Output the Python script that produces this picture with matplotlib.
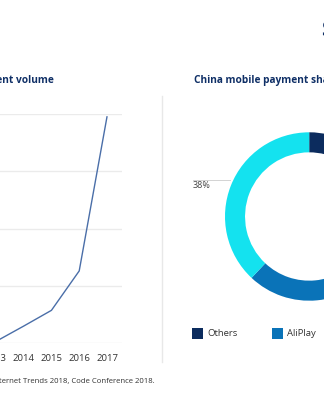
import matplotlib
import matplotlib.pyplot as plt
from matplotlib.lines import Line2D
from matplotlib.patches import Rectangle

matplotlib.use("Agg")

plt.rcParams["font.family"] = ["Open Sans", "DejaVu Sans"]

# data
years = [2013, 2014, 2015, 2016, 2017]
volume = [0.13, 1.2, 2.3, 5.05, 15.8]
share_labels = ["Others", "AliPlay", "WeChat Pay"]
share_values = [8, 54, 38]
share_colors = ["#0c2c5e", "#0a73b8", "#14e2ef"]

NAVY = "#0f2f66"
W, H = 324, 400


def fx(px):
    return px / W


def fy(py):
    return 1 - py / H


fig = plt.figure(figsize=(W / 100, H / 100), dpi=100)

# big slide title, mostly cut off by the crop
fig.text(fx(321), fy(36), "S", fontsize=15, fontweight="bold", color=NAVY,
         ha="left", va="baseline")

# left: line chart
ax1 = fig.add_axes([fx(-18), fy(343.3), fx(121.7 + 18), (343.3 - 114) / H])
ax1.plot(years, volume, color="#4a6ea8", lw=1.0)
ax1.set_xlim(years[0] - 0.5, years[-1] + 0.53)
ax1.set_ylim(0, 16)
ax1.set_yticks([0, 4, 8, 12, 16])
ax1.set_yticklabels([])
ax1.set_xticks(years)
ax1.set_xticklabels([str(y) for y in years])
ax1.grid(True, axis="y", color="#ebebeb", lw=1)
ax1.set_axisbelow(True)
for s in ax1.spines.values():
    s.set_visible(False)
ax1.tick_params(length=0, labelsize=6.8, labelcolor="#333333", pad=8)
fig.text(fx(54), fy(81), "China mobile payment volume", fontsize=7.3,
         fontweight="bold", color=NAVY, ha="right", va="center")

# divider
fig.add_artist(Line2D([fx(162), fx(162)], [fy(96), fy(362)],
                      color="#e8e8e8", lw=1))

# right: donut
cx, cy, r = 309.2, 216.5, 84.2
ax2 = fig.add_axes([fx(cx - r), fy(cy + r), fx(2 * r), 2 * r / H])
ax2.pie(share_values, colors=share_colors, startangle=90, counterclock=False,
        radius=1, wedgeprops=dict(width=0.238, linewidth=0))
ax2.set_xlim(-1, 1)
ax2.set_ylim(-1, 1)
ax2.axis("off")
fig.text(fx(194), fy(81), "China mobile payment share", fontsize=7.3,
         fontweight="bold", color=NAVY, ha="left", va="center")

# 38% callout
fig.add_artist(Line2D([fx(193), fx(230)], [fy(179.5), fy(179.5)],
                      color="#cccccc", lw=0.6))
fig.text(fx(193), fy(185.5), f"{share_values[2]}%", fontsize=6.5,
         color="#444444", ha="left", va="center")

# legend
leg_x = [191.7, 271.7, 351.7]
for lbl, col, x in zip(share_labels, share_colors, leg_x):
    fig.add_artist(Rectangle((fx(x), fy(339)), fx(11), 11 / H,
                             facecolor=col, edgecolor="none"))
    fig.text(fx(x + 15.5), fy(334), lbl, fontsize=6.8, color="#333333",
             ha="left", va="center")

# source
fig.text(fx(155), fy(381.7),
         "Source: Mary Meeker, Internet Trends 2018, Code Conference 2018.",
         fontsize=5.6, color="#333333", ha="right", va="center")

fig.savefig("out.png", dpi=100)
